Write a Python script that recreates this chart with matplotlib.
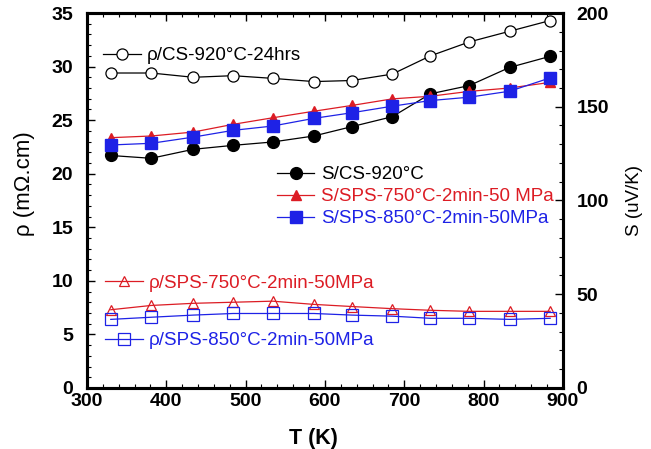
import matplotlib
matplotlib.use("Agg")
import matplotlib.pyplot as plt
from matplotlib.ticker import MultipleLocator

plt.rcParams["font.family"] = ["Liberation Sans", "DejaVu Sans"]

# temperatures (K)
temp = [330, 381, 434, 484, 534, 586, 634, 685, 733, 782, 833, 884]

# resistivity (mOhm.cm), left axis
rho_cs920 = [29.4, 29.4, 29.0, 29.15, 28.9, 28.6, 28.7, 29.3, 31.0, 32.3, 33.3, 34.3]
rho_sps750 = [7.3, 7.7, 7.9, 8.0, 8.1, 7.8, 7.6, 7.4, 7.25, 7.15, 7.15, 7.15]
rho_sps850 = [6.4, 6.6, 6.8, 6.95, 6.95, 6.95, 6.8, 6.7, 6.5, 6.5, 6.4, 6.5]

# Seebeck (uV/K), right axis
s_cs920 = [124.0, 122.5, 127.3, 129.4, 131.2, 134.4, 139.4, 144.7, 156.9, 161.3, 171.0, 176.9]
s_sps750 = [133.5, 134.4, 136.5, 140.6, 144.1, 147.6, 150.7, 154.2, 155.6, 158.2, 160.0, 163.0]
s_sps850 = [129.6, 130.5, 133.8, 137.4, 139.7, 143.8, 146.8, 150.3, 153.3, 155.1, 158.3, 165.4]

RED = "#dc1c24"
BLUE = "#1e22e6"

fig = plt.figure(figsize=(6.51, 4.49), dpi=100)
ax = fig.add_axes([0.1336, 0.136, 0.731, 0.835])
ax2 = ax.twinx()

l_rho_cs, = ax.plot(temp, rho_cs920, color="black", lw=0.9, marker="o", ms=8,
                    mfc="white", mec="black", mew=0.9, label="\u03c1/CS-920\u00b0C-24hrs")
l_rho_750, = ax.plot(temp, rho_sps750, color=RED, lw=0.9, marker="^", ms=7,
                     mfc="none", mec=RED, mew=0.9, label="\u03c1/SPS-750\u00b0C-2min-50MPa")
l_rho_850, = ax.plot(temp, rho_sps850, color=BLUE, lw=0.9, marker="s", ms=8,
                     mfc="none", mec=BLUE, mew=0.9, label="\u03c1/SPS-850\u00b0C-2min-50MPa")

l_s_cs, = ax2.plot(temp, s_cs920, color="black", lw=0.9, marker="o", ms=8.5,
                   label="S/CS-920\u00b0C")
l_s_750, = ax2.plot(temp, s_sps750, color=RED, lw=0.9, marker="^", ms=7,
                    label="S/SPS-750\u00b0C-2min-50 MPa")
l_s_850, = ax2.plot(temp, s_sps850, color=BLUE, lw=0.9, marker="s", ms=8.5,
                    label="S/SPS-850\u00b0C-2min-50MPa")

ax.set_xlim(300, 900)
ax.set_ylim(0, 35)
ax2.set_ylim(0, 200)

ax.xaxis.set_major_locator(MultipleLocator(100))
ax.xaxis.set_minor_locator(MultipleLocator(20))
ax.yaxis.set_major_locator(MultipleLocator(5))
ax.yaxis.set_minor_locator(MultipleLocator(1))
ax2.yaxis.set_major_locator(MultipleLocator(50))
ax2.yaxis.set_minor_locator(MultipleLocator(10))

ax.tick_params(axis="x", which="both", direction="in", top=True)
ax.tick_params(axis="y", which="both", direction="in", right=False)
ax2.tick_params(axis="y", which="both", direction="in")
for a in (ax, ax2):
    a.tick_params(which="major", length=6, width=1.0, labelsize=14)
    a.tick_params(which="minor", length=3, width=0.8)
    for lab in a.get_xticklabels() + a.get_yticklabels():
        lab.set_fontweight("bold")
    for sp in a.spines.values():
        sp.set_linewidth(2.2)
ax.tick_params(axis="x", pad=4)
ax.tick_params(axis="y", pad=10)
ax2.tick_params(axis="y", pad=10)

ax.set_xlabel("T (K)", fontsize=15.5, fontweight="bold")
ax.xaxis.set_label_coords(0.476, -0.107)
ax.set_ylabel("\u03c1 (m\u03a9.cm)", fontsize=16)
ax.yaxis.set_label_coords(-0.109, 0.544)
ax2.set_ylabel("S (uV/K)", fontsize=13.5, rotation=90)
ax2.yaxis.set_label_coords(1.132, 0.5)

leg_kw = dict(frameon=False, fontsize=13.5, handlelength=2.0, handletextpad=0.35,
              borderpad=0, borderaxespad=0, loc="center left")

leg1 = ax2.legend(handles=[l_rho_cs], bbox_to_anchor=(0.034, 0.886), **leg_kw)
ax2.add_artist(leg1)
leg2 = ax2.legend(handles=[l_s_cs, l_s_750, l_s_850], bbox_to_anchor=(0.399, 0.51),
                  labelspacing=0.25, labelcolor=["black", RED, BLUE], **leg_kw)
ax2.add_artist(leg2)
leg3 = ax2.legend(handles=[l_rho_750], bbox_to_anchor=(0.038, 0.28),
                  labelcolor=[RED], **leg_kw)
ax2.add_artist(leg3)
leg4 = ax2.legend(handles=[l_rho_850], bbox_to_anchor=(0.038, 0.126),
                  labelcolor=[BLUE], **leg_kw)

fig.savefig("out.png", dpi=100)
